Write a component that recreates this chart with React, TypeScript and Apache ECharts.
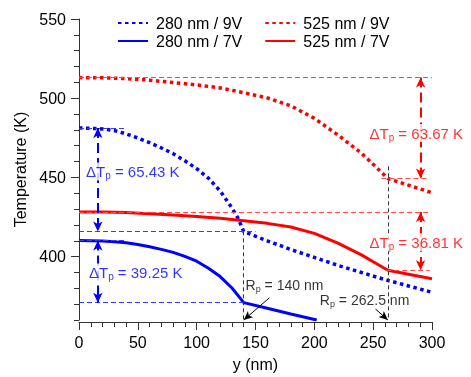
import React, { useEffect, useRef } from "react";
import * as echarts from "echarts";

const BLUE = "#0000ff";
const RED = "#ff0000";
const FONT = "Liberation Sans, Arial, sans-serif";

// 280 nm / 9V (dotted blue)
const xBlue9 = [0, 10, 20, 30, 40, 50, 60, 70, 80, 90, 100, 110, 120, 130, 135, 140, 160, 180, 200, 220, 240, 260, 280, 300];
const tBlue9 = [481.2, 481.0, 480.6, 479.6, 477.5, 474.9, 471.9, 468.6, 465.0, 460.5, 455.5, 449.5, 441.4, 430.7, 424.5, 415.8, 410.0, 404.5, 399.5, 394.5, 390.0, 385.5, 381.5, 377.5];
// 280 nm / 7V (solid blue)
const xBlue7 = [0, 10, 20, 30, 40, 50, 60, 70, 80, 90, 100, 110, 120, 130, 140, 160, 180, 202];
const tBlue7 = [410.2, 410.1, 409.8, 409.4, 408.8, 407.7, 406.2, 404.6, 402.7, 400.2, 397.1, 392.7, 387.4, 380.2, 370.95, 367.4, 363.8, 360.0];
// 525 nm / 9V (dotted red)
const xRed9 = [0, 20, 40, 60, 80, 100, 120, 140, 160, 180, 200, 220, 240, 250, 262.5, 280, 300];
const tRed9 = [513.0, 512.9, 512.4, 511.4, 509.9, 508.4, 506.5, 503.5, 500.2, 495.2, 487.3, 476.8, 465.3, 458.3, 449.3, 445.1, 440.3];
// 525 nm / 7V (solid red)
const xRed7 = [0, 20, 40, 60, 80, 100, 120, 140, 160, 180, 200, 220, 240, 250, 262.5, 280, 300];
const tRed7 = [428.2, 428.1, 427.8, 427.1, 426.3, 425.3, 424.2, 422.6, 421.0, 418.7, 414.7, 408.5, 401.1, 396.8, 391.4, 388.9, 386.0];

const yMajorTicks = [400, 450, 500, 550];

// ΔT annotations: [x, top, bottom]
const dtArrowsBlue = [
  [16, 481.2, 415.8],
  [16, 410.2, 370.95],
];
const dtArrowsRed = [
  [290.3, 513.0, 449.3],
  [290.3, 428.2, 391.4],
];
// Horizontal guide lines: [y, xStart, xEnd]
const guidesBlue = [
  [481.2, 0, 40],
  [415.8, 0, 150],
  [410.2, 0, 40],
  [370.95, 0, 140],
];
const guidesRed = [
  [513.0, 0, 300],
  [449.3, 257, 298],
  [428.2, 0, 298],
  [391.4, 261, 298],
];
// Vertical Rp lines: [x, top]
const rpLines = [
  [140, 416],
  [262.5, 457],
];
// Rp pointer arrows: [xFrom, yFrom, xTo, yTo]
const rpArrows = [
  [161.8, 374, 140, 360],
  [252, 366.9, 262.5, 360],
];
// Text labels: [x, y, value text]
const dtLabelsBlue = [
  [45.7, 453.8, " = 65.43 K"],
  [48.2, 390.0, " = 39.25 K"],
];
const dtLabelsRed = [
  [286.6, 478.0, " = 63.67 K"],
  [286.6, 409.0, " = 36.81 K"],
];
const rpLabels = [
  [174.6, 382.3, " = 140 nm"],
  [242.7, 372.8, " = 262.5 nm"],
];

const zip = (xs: number[], ys: number[]) => xs.map((x, i) => [x, ys[i]]);

export default function App() {
  const ref = useRef<HTMLDivElement>(null);
  useEffect(() => {
    if (!ref.current) return;
    const chart = echarts.init(ref.current, undefined, { renderer: "svg" });

    const arrowLine = (x: number, a: number, b: number, color: string) => [
      { coord: [x, a], symbol: "arrow", symbolSize: [7, 10], lineStyle: { color, width: 2, type: [10, 5] } },
      { coord: [x, b], symbol: "arrow", symbolSize: [7, 10] },
    ];
    const hLine = (g: number[], color: string) => [
      { coord: [g[1], g[0]], symbol: "none", lineStyle: { color, width: 1, type: [5, 3] } },
      { coord: [g[2], g[0]], symbol: "none" },
    ];

    const markData: any[] = [];
    guidesBlue.forEach((g) => markData.push(hLine(g, "#3a3aff")));
    guidesRed.forEach((g) => markData.push(hLine(g, "#ff4a4a")));
    rpLines.forEach((r) =>
      markData.push([
        { coord: [r[0], r[1]], symbol: "none", lineStyle: { color: "#333", width: 1, type: [4, 3] } },
        { coord: [r[0], 360], symbol: "none" },
      ])
    );
    dtArrowsBlue.forEach((a) => markData.push(arrowLine(a[0], a[1], a[2], BLUE)));
    dtArrowsRed.forEach((a) => markData.push(arrowLine(a[0], a[1], a[2], RED)));
    rpArrows.forEach((a) =>
      markData.push([
        { coord: [a[0], a[1]], symbol: "none", lineStyle: { color: "#000", width: 1, type: "solid" } },
        { coord: [a[2], a[3]], symbol: "arrow", symbolSize: [6, 9] },
      ])
    );

    const richFor = (color: string, size: number, sub: number) => ({
      a: { fontSize: size, color, fontFamily: FONT, lineHeight: size + 3 },
      b: { fontSize: sub, color, fontFamily: FONT, lineHeight: sub, verticalAlign: "bottom" },
    });

    const labelData: any[] = [];
    dtLabelsBlue.forEach((l) =>
      labelData.push({
        value: [l[0], l[1]],
        label: {
          show: true,
          position: "inside",
          backgroundColor: "#fff",
          formatter: "{a|ΔT}{b|p}{a|" + l[2] + "}",
          rich: richFor(BLUE, 15, 10),
        },
      })
    );
    dtLabelsRed.forEach((l) =>
      labelData.push({
        value: [l[0], l[1]],
        label: {
          show: true,
          position: "inside",
          backgroundColor: "#fff",
          formatter: "{a|ΔT}{b|p}{a|" + l[2] + "}",
          rich: richFor(RED, 15, 10),
        },
      })
    );
    rpLabels.forEach((l) =>
      labelData.push({
        value: [l[0], l[1]],
        label: {
          show: true,
          position: "inside",
          formatter: "{a|R}{b|p}{a|" + l[2] + "}",
          rich: richFor("#000", 14, 9),
        },
      })
    );

    const legendBase = {
      left: 117,
      padding: 0,
      itemWidth: 30,
      itemHeight: 14,
      itemGap: 22,
      itemStyle: { opacity: 0 },
      textStyle: { fontSize: 16, color: "#000", fontFamily: FONT, padding: [0, 0, 0, 3] },
    };

    const axisColor = "#333";
    chart.setOption({
      animation: false,
      textStyle: { fontFamily: FONT },
      grid: { left: 79, right: 39, top: 19, bottom: 57, containLabel: false },
      legend: [
        { ...legendBase, data: ["280 nm / 9V", "525 nm / 9V"], top: 15 },
        { ...legendBase, data: ["280 nm / 7V", "525 nm / 7V"], top: 33 },
      ],
      xAxis: {
        type: "value",
        min: 0,
        max: 300,
        interval: 50,
        offset: 2,
        name: "y (nm)",
        nameLocation: "middle",
        nameGap: 34,
        nameTextStyle: { fontSize: 16, color: "#000", fontFamily: FONT },
        axisLine: { show: true, lineStyle: { color: axisColor, width: 1 } },
        axisTick: { show: true, length: 8, lineStyle: { color: axisColor } },
        minorTick: { show: true, splitNumber: 5, length: 5, lineStyle: { color: axisColor } },
        axisLabel: { fontSize: 16, color: "#000", margin: 12, fontFamily: FONT },
        splitLine: { show: false },
        minorSplitLine: { show: false },
      },
      yAxis: [
        {
          type: "value",
          min: 360,
          max: 550,
          position: "left",
          name: "Temperature (K)",
          nameLocation: "middle",
          nameGap: 50,
          nameTextStyle: { fontSize: 16, color: "#000", fontFamily: FONT },
          axisLine: { show: true, lineStyle: { color: axisColor, width: 1 } },
          axisTick: { show: true, length: 8, customValues: yMajorTicks, lineStyle: { color: axisColor } },
          axisLabel: { fontSize: 16, color: "#000", margin: 13, customValues: yMajorTicks, fontFamily: FONT },
          splitLine: { show: false },
        },
        {
          type: "value",
          min: 360,
          max: 550,
          interval: 10,
          position: "left",
          axisLine: { show: false },
          axisTick: { show: true, length: 5, lineStyle: { color: axisColor } },
          axisLabel: { show: false },
          splitLine: { show: false },
        },
      ],
      series: [
        {
          name: "guides",
          type: "line",
          data: [],
          z: 1,
          markLine: { silent: true, animation: false, label: { show: false }, data: markData },
        },
        {
          name: "280 nm / 9V",
          type: "line",
          z: 2,
          data: zip(xBlue9, tBlue9),
          symbol: "none",
          color: BLUE,
          lineStyle: { color: BLUE, width: 3.5, type: [3.5, 3.5] },
        },
        {
          name: "525 nm / 9V",
          type: "line",
          z: 2,
          data: zip(xRed9, tRed9),
          symbol: "none",
          color: RED,
          lineStyle: { color: RED, width: 3.5, type: [3.5, 3.5] },
        },
        {
          name: "280 nm / 7V",
          type: "line",
          z: 2,
          data: zip(xBlue7, tBlue7),
          symbol: "none",
          color: BLUE,
          lineStyle: { color: BLUE, width: 3, type: "solid" },
        },
        {
          name: "525 nm / 7V",
          type: "line",
          z: 2,
          data: zip(xRed7, tRed7),
          symbol: "none",
          color: RED,
          lineStyle: { color: RED, width: 3, type: "solid" },
        },
        {
          name: "labels",
          type: "scatter",
          z: 10,
          symbolSize: 0,
          silent: true,
          data: labelData,
        },
      ],
    });
    return () => chart.dispose();
  }, []);
  return <div ref={ref} style={{ position: "fixed", left: 0, top: 0, width: 471, height: 377 }} />;
}
